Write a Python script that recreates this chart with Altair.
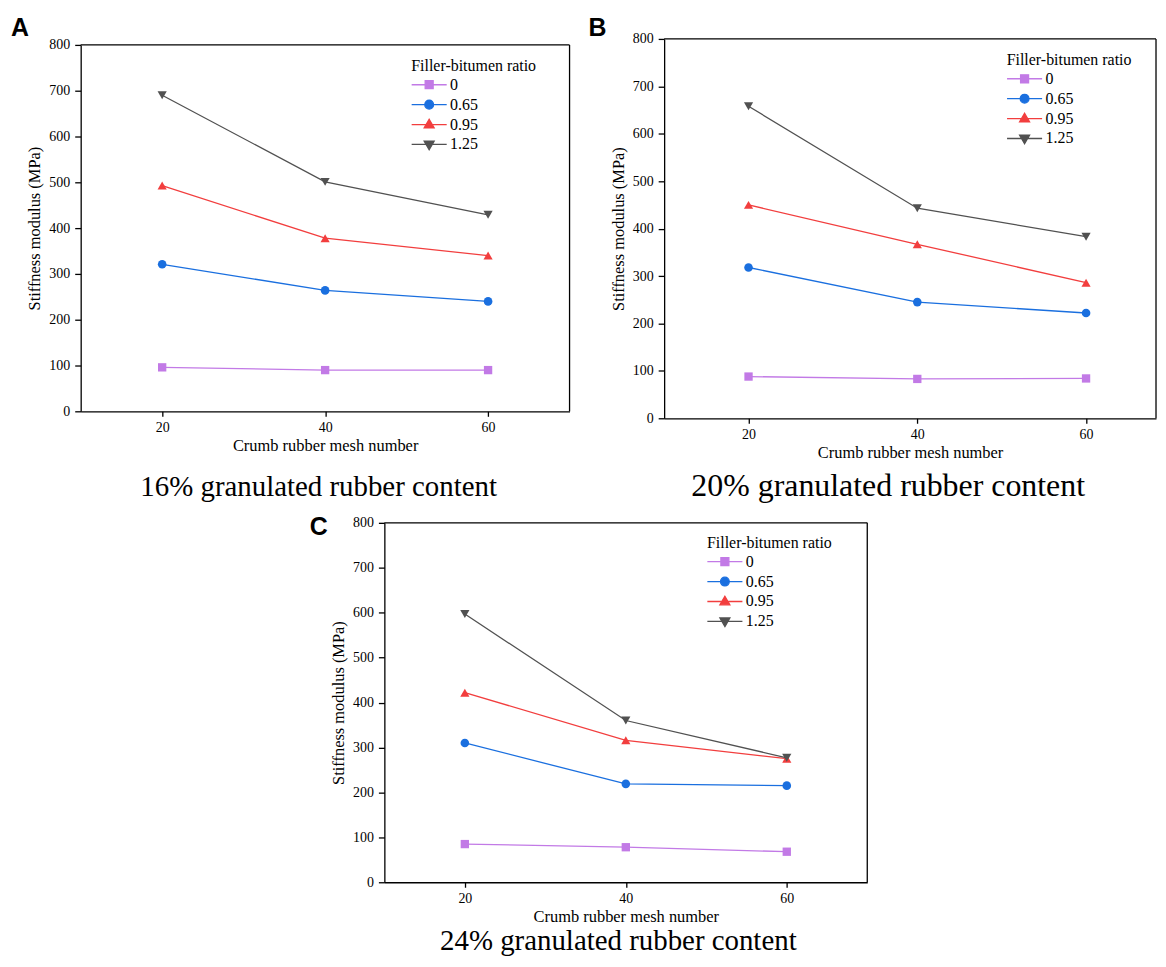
import altair as alt
import pandas as pd

mesh = [20, 40, 60]
ratios = ["0", "0.65", "0.95", "1.25"]
colors = ["#C27AE6", "#1A6FDF", "#F23E3E", "#515151"]
shapes = ["square", "circle", "triangle-up", "triangle-down"]
marker_sizes = [70, 75, 85, 85]
legend_paths = [
    "M-1.9,0H6.9M1.5,-1H3.5V1H1.5Z",
    "M-1.9,0H6.9M1.4,0A1.1,1.1,0,1,0,3.6,0A1.1,1.1,0,1,0,1.4,0Z",
    "M-1.9,0H6.9M2.5,-1.3L3.75,0.85H1.25Z",
    "M-1.9,0H6.9M2.5,1.3L3.75,-0.85H1.25Z",
]

# 16% granulated rubber content
a_0 = [96, 90, 90]
a_065 = [321, 264, 240]
a_095 = [493, 378, 340]
a_125 = [690, 501, 429]
# 20% granulated rubber content
b_0 = [88, 83, 84]
b_065 = [318, 245, 222]
b_095 = [450, 367, 286]
b_125 = [658, 443, 383]
# 24% granulated rubber content
c_0 = [85, 78, 68]
c_065 = [310, 219, 215]
c_095 = [422, 316, 275]
c_125 = [597, 360, 277]

x_title = "Crumb rubber mesh number"
y_title = "Stiffness modulus (MPa)"
legend_title = "Filler-bitumen ratio"

SERIF = "Liberation Serif"
FRAME = "black"


def panel(series, letter, subtitle, W, H, xmax, leg_x, leg_y, let_x, let_y,
          sub_x, sub_y, sub_size=29, top_gap=0):
    rows = []
    for r, vals in zip(ratios, series):
        for m, v in zip(mesh, vals):
            rows.append({"mesh": m, "ratio": r, "value": v})
    df = pd.DataFrame(rows)
    xenc = alt.X("mesh:Q",
                 scale=alt.Scale(domain=[10, xmax], nice=False, zero=False),
                 axis=alt.Axis(values=mesh, title=x_title, tickSize=5,
                               labelPadding=4, titlePadding=3))
    yscale = alt.Scale(domain=[0, 800], nice=False, range=[H, top_gap])
    yenc = alt.Y("value:Q", scale=yscale,
                 axis=alt.Axis(values=list(range(0, 801, 50)),
                               labelExpr="datum.value % 100 === 0 ? datum.label : ''",
                               tickSize={"condition": {"test": "datum.value % 100 === 0", "value": 6},
                                         "value": 3.5},
                               title=y_title, labelPadding=5, titlePadding=6))
    base = alt.Chart(df).encode(x=xenc, y=yenc)
    layers = []
    for r, c in zip(ratios, colors):
        layers.append(base.transform_filter(alt.datum.ratio == r)
                      .mark_line(strokeWidth=1.3, color=c))
    for r, c, s, sz in zip(ratios, colors, shapes, marker_sizes):
        layers.append(base.transform_filter(alt.datum.ratio == r)
                      .mark_point(filled=True, opacity=1, size=sz, strokeWidth=0,
                                  shape=s, color=c))
    leg = alt.Legend(title=legend_title, orient="none", legendX=leg_x, legendY=leg_y,
                     symbolSize=64, symbolStrokeWidth=1.3, symbolOpacity=1,
                     symbolFillColor="#000000", labelFont=SERIF,
                     labelFontSize=16, labelColor="black", titleFont=SERIF,
                     titleFontSize=16, titleFontWeight="normal", titleColor="black",
                     labelOffset=23, rowPadding=4, titlePadding=3, padding=0)
    legl = base.transform_filter("false").mark_point(filled=True, opacity=1, size=64).encode(
        shape=alt.Shape("ratio:N", scale=alt.Scale(domain=ratios, range=legend_paths), legend=leg),
        fill=alt.Fill("ratio:N", scale=alt.Scale(domain=ratios, range=colors), legend=leg),
        stroke=alt.Stroke("ratio:N", scale=alt.Scale(domain=ratios, range=colors), legend=leg),
    )
    layers.append(legl)
    # frame: top and right edges of the plot box
    fr = alt.Chart(pd.DataFrame({"t": [0]}))
    layers.append(fr.mark_rule(color=FRAME, strokeWidth=1.3).encode(
        y=alt.datum(800), x=alt.value(0), x2=alt.value(W)))
    layers.append(fr.mark_rule(color=FRAME, strokeWidth=1.3).encode(
        x=alt.value(W), y=alt.datum(0), y2=alt.datum(800)))
    layers.append(alt.Chart(pd.DataFrame({"t": [letter]})).mark_text(
        align="left", baseline="top", font="Liberation Sans", fontWeight="bold",
        fontSize=25, color="black").encode(text="t:N", x=alt.value(let_x), y=alt.value(let_y)))
    layers.append(alt.Chart(pd.DataFrame({"t": [subtitle]})).mark_text(
        align="center", baseline="alphabetic", font=SERIF, fontSize=sub_size,
        color="black").encode(text="t:N", x=alt.value(sub_x), y=alt.value(sub_y)))
    return alt.layer(*layers).properties(width=W, height=H)


A = panel([a_0, a_065, a_095, a_125], "A", "16% granulated rubber content",
          491, 374, 70, 332, 19, -70, -23, 239, 459, top_gap=6)
B = panel([b_0, b_065, b_095, b_125], "B", "20% granulated rubber content",
          494, 381, 10 + 494 / 8.475, 344, 13, -76, -23, 225, 459, sub_size=32)
C = panel([c_0, c_065, c_095, c_125], "C", "24% granulated rubber content",
          485, 361, 70, 324, 12, -75, -8, 235, 429)

# empty spacer that shifts panel C to the right under the top row
spacer = alt.Chart(pd.DataFrame({"t": [0]})).mark_point(opacity=0).encode(
    x=alt.value(0), y=alt.value(0)).properties(width=228, height=1)

indep = dict(fill="independent", stroke="independent", shape="independent")
row1 = alt.hconcat(A, B, spacing=16).resolve_scale(**indep)
row2 = alt.hconcat(spacer, C, spacing=0).resolve_scale(**indep)
chart = alt.vconcat(row1, row2, spacing=11).resolve_scale(**indep).properties(
    padding={"left": 2, "top": 5, "right": 0, "bottom": 0}
).configure_view(stroke="transparent").configure_axis(
    domainColor="black", domainWidth=1.3, tickColor="black", tickWidth=1.3,
    labelColor="black", labelFont=SERIF, labelFontSize=14,
    titleFont=SERIF, titleFontSize=16.5, titleFontWeight="normal",
    titleColor="black", grid=False
)

chart.save("out.html", embed_options={"renderer": "svg", "actions": False})
